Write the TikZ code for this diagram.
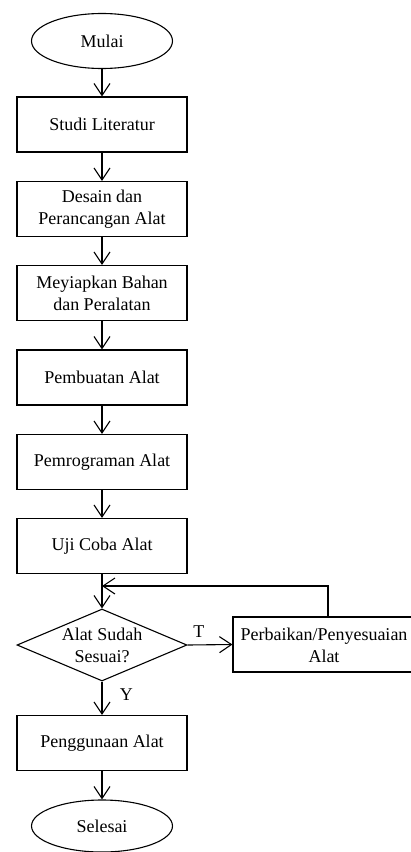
\documentclass[tikz,border=0pt]{standalone}
\usepackage{fontspec}
\setmainfont{Liberation Serif}
\usetikzlibrary{arrows.meta,shapes.geometric}
\begin{document}
\begin{tikzpicture}[x=1pt,y=-1pt,
  font=\fontsize{18}{22}\selectfont,
  line width=1.1pt,
  procbox/.style={draw,rectangle,minimum width=170pt,minimum height=55pt,align=center,inner sep=0pt},
  termbox/.style={draw,ellipse,minimum width=141pt,minimum height=55pt,inner sep=0pt},
  decbox/.style={draw,diamond,minimum width=170pt,minimum height=72pt,inner sep=0pt},
  flow/.style={-{Straight Barb[length=12pt,width=16pt,line width=1.1pt]}},
  lbl/.style={inner sep=0pt}]
\clip (0,0) rectangle (411,852);
\fill[white] (0,0) rectangle (411,852);
\node[termbox] (mulai) at (102,41) {Mulai};
\node[procbox] (studi) at (102,124.5) {Studi Literatur};
\node[procbox] (desain) at (102,209) {Desain dan\\Perancangan Alat};
\node[procbox] (siap) at (102,293) {Meyiapkan Bahan\\dan Peralatan};
\node[procbox] (buat) at (102,377.5) {Pembuatan Alat};
\node[procbox] (prog) at (102,462) {Pemrograman Alat};
\node[procbox] (uji) at (102,546) {Uji Coba Alat};
\node[decbox] (dec) at (102,645) {};
\node[align=center,lbl] (dectxt) at (102,645) {Alat Sudah\\Sesuai?};
\node[draw,rectangle,minimum width=190pt,minimum height=55pt,inner sep=0pt] (perb) at (328,644.5) {};
\node[align=center,lbl] (perbtxt) at (324,645) {Perbaikan/Penyesuaian\\Alat};
\node[procbox] (guna) at (102,743) {Penggunaan Alat};
\node[termbox,minimum height=52pt] (selesai) at (102,826) {Selesai};
\coordinate (loopc) at (102,586);
\coordinate (loopr) at (328,586);
\draw[flow] (mulai) -- (studi);
\draw[flow] (studi) -- (desain);
\draw[flow] (desain) -- (siap);
\draw[flow] (siap) -- (buat);
\draw[flow] (buat) -- (prog);
\draw[flow] (prog) -- (uji);
\draw[flow] (uji) -- (dec);
\draw[flow] (dec.east) -- node[above,pos=0.25,yshift=4pt] (tlabel) {T} (perb.west);
\draw[flow] (perb.north -| loopr) -- (loopr) -- (loopc);
\draw[flow] (dec) -- node[right,pos=0.4,xshift=14pt] (ylabel) {Y} (guna);
\draw[flow] (guna) -- (selesai);
\end{tikzpicture}
\end{document}
